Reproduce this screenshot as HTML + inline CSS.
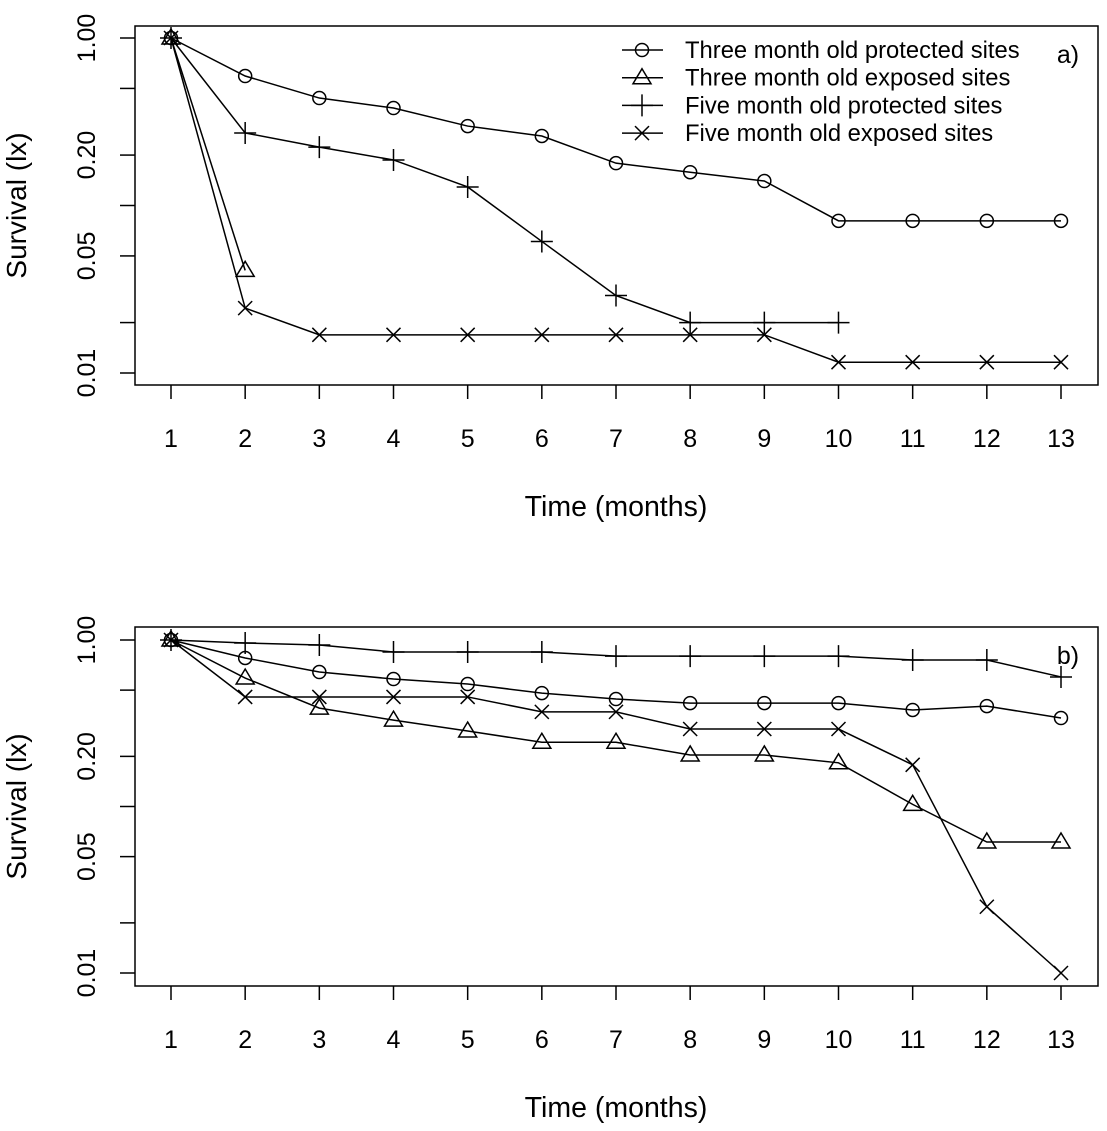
<!DOCTYPE html>
<html><head><meta charset="utf-8"><style>
html,body{margin:0;padding:0;background:#fff;width:1107px;height:1131px;overflow:hidden}
svg text{font-family:"Liberation Sans",Arial,sans-serif;fill:#000}
</style></head><body>
<svg id="chart" width="1107" height="1131" xmlns="http://www.w3.org/2000/svg"></svg>
<script>
const months = [1,2,3,4,5,6,7,8,9,10,11,12,13];
const yTickValues = [1, 0.5, 0.2, 0.1, 0.05, 0.02, 0.01];
const yTickLabels = ["1.00", "", "0.20", "", "0.05", "", "0.01"];
const seriesNames = ["Three month old protected sites","Three month old exposed sites","Five month old protected sites","Five month old exposed sites"];
const seriesSymbols = ["circle","triangle","plus","cross"];
// panel a
const a3Prot = [1,0.593,0.438,0.382,0.298,0.26,0.179,0.158,0.14,0.081,0.081,0.081,0.081];
const a3Exp = [1,0.041];
const a5Prot = [1,0.271,0.223,0.187,0.129,0.061,0.029,0.02,0.02,0.02];
const a5Exp = [1,0.0244,0.0169,0.0169,0.0169,0.0169,0.0169,0.0169,0.0169,0.0116,0.0116,0.0116,0.0116];
// panel b
const b3Prot = [1,0.78,0.642,0.583,0.544,0.48,0.442,0.418,0.418,0.418,0.38,0.401,0.34];
const b3Exp = [1,0.591,0.39,0.33,0.284,0.243,0.243,0.204,0.204,0.183,0.103,0.0612,0.0612];
const b5Prot = [1,0.96,0.933,0.847,0.847,0.847,0.8,0.8,0.8,0.8,0.758,0.758,0.6];
const b5Exp = [1,0.455,0.455,0.455,0.455,0.37,0.37,0.292,0.292,0.292,0.178,0.025,0.01];

const NS="http://www.w3.org/2000/svg";
const svg=document.getElementById('chart');
function mk(tag,attrs,parent){const e=document.createElementNS(NS,tag);for(const k in attrs)e.setAttribute(k,attrs[k]);(parent||svg).appendChild(e);return e;}
const xs=m=>171+(m-1)*(1061-171)/12;

function symbol(g,type,x,y){
  const st={stroke:'#000','stroke-width':1.5,fill:'none'};
  let e;
  if(type==='circle'){e=mk('circle',Object.assign({cx:x,cy:y,r:6.5},st),g);}
  else if(type==='triangle'){e=mk('path',Object.assign({d:`M${x},${y-9} L${x+9},${y+6} L${x-9},${y+6} Z`},st),g);}
  else if(type==='plus'){e=mk('path',Object.assign({d:`M${x-11},${y} H${x+11} M${x},${y-11} V${y+11}`},st),g);}
  else {e=mk('path',Object.assign({d:`M${x-7},${y-7} L${x+7},${y+7} M${x-7},${y+7} L${x+7},${y-7}`},st),g);}
  
  
}

function panel(name,top,bottom,y1,y01,series,label,legend){
  const g=mk('g',{});
  
  
  const ys=v=>y1+(-Math.log10(v))*(y01-y1)/2;
  const box=mk('rect',{x:135,y:top,width:963,height:bottom-top,fill:'none',stroke:'#000','stroke-width':1.5},g);
  
  
  yTickValues.forEach((v,i)=>{
    const y=ys(v);
    const t=mk('line',{x1:120,x2:135,y1:y,y2:y,stroke:'#000','stroke-width':1.5},g);
    
    
    if(yTickLabels[i]){
      const tx=mk('text',{x:0,y:0,'font-size':25,'text-anchor':'middle',transform:`translate(95,${y}) rotate(-90)`},g);
      tx.textContent=yTickLabels[i];
      
      
    }
  });
  const yt=mk('text',{x:0,y:0,'font-size':28,'text-anchor':'middle',transform:`translate(26,${(top+bottom)/2}) rotate(-90)`},g);
  yt.textContent='Survival (lx)';
  
  
  months.forEach(m=>{
    const x=xs(m);
    const t=mk('line',{x1:x,x2:x,y1:bottom,y2:bottom+14,stroke:'#000','stroke-width':1.5},g);
    
    
    const tx=mk('text',{x:x,y:bottom+62,'font-size':25,'text-anchor':'middle'},g);
    tx.textContent=m;
    
    
  });
  const xt=mk('text',{x:616,y:bottom+131,'font-size':28.5,'text-anchor':'middle'},g);
  xt.textContent='Time (months)';
  
  
  series.forEach((s,i)=>{
    const sg=mk('g',{},g);
    
    
    const pts=s.map((v,j)=>xs(months[j])+','+ys(v)).join(' ');
    const pl=mk('polyline',{points:pts,fill:'none',stroke:'#000','stroke-width':1.5},sg);
    
    
    s.forEach((v,j)=>symbol(sg,seriesSymbols[i],xs(months[j]),ys(v)));
  });
  const pl=mk('text',{x:1068,y:top+37,'font-size':25,'text-anchor':'middle'},g);
  pl.textContent=label;
  
  
  if(legend){
    const lg=mk('g',{},g);
    
    
    seriesNames.forEach((n,i)=>{
      const y=50+i*27.7;
      const e=mk('g',{},lg);
      
      
      mk('line',{x1:622,x2:663,y1:y,y2:y,stroke:'#000','stroke-width':1.5},e);
      symbol(e,seriesSymbols[i],642,y);
      const t=mk('text',{x:685,y:y+8,'font-size':23.8},e);
      t.textContent=n;
    });
  }
}
panel('panel-a',26,385,38,373,[a3Prot,a3Exp,a5Prot,a5Exp],'a)',true);
panel('panel-b',627,986,640,973,[b3Prot,b3Exp,b5Prot,b5Exp],'b)',false);
</script>
</body></html>
